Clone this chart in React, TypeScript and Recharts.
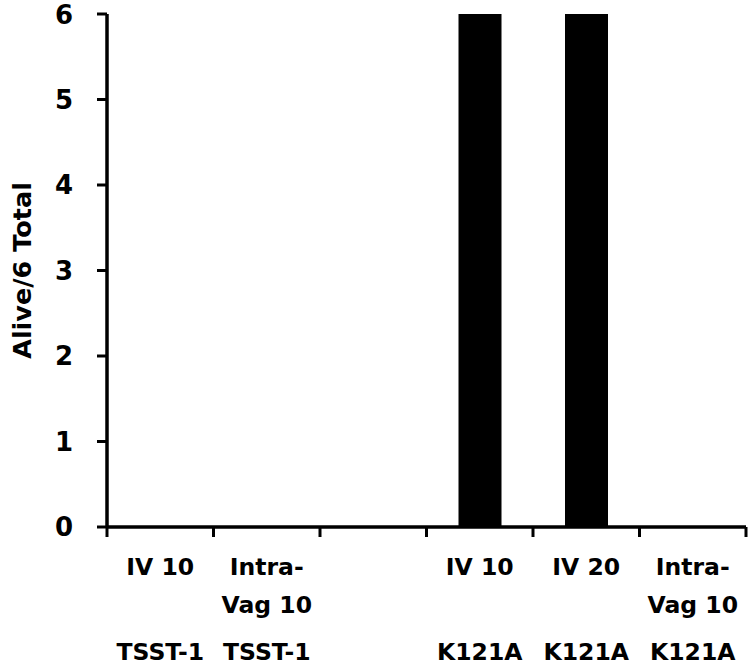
import { Bar, BarChart, XAxis, YAxis } from "recharts";

const routes: string[][] = [["IV 10"], ["Intra-", "Vag 10"], [], ["IV 10"], ["IV 20"], ["Intra-", "Vag 10"]];
const proteins = ["TSST-1", "TSST-1", "", "K121A", "K121A", "K121A"];
const alive = [0, 0, 0, 6, 6, 0];
const yTicks = [0, 1, 2, 3, 4, 5, 6];

const data = alive.map((v, i) => ({ pos: i + 0.5, alive: v }));
const xTicks = Array.from({ length: routes.length * 2 + 1 }, (_, i) => i / 2);

const FONT = "'DejaVu Sans', sans-serif";

const XTick = (props: any) => {
  const { x, y, payload } = props;
  const v = payload.value as number;
  if (Number.isInteger(v)) {
    return <line x1={x} x2={x} y1={y} y2={y + 10} stroke="#000" strokeWidth={3} />;
  }
  const i = Math.floor(v);
  return (
    <g fontFamily={FONT} fontWeight="bold" fontSize={23.5} fill="#000">
      {routes[i].map((line, k) => (
        <text key={k} x={x} y={y + 48 + k * 38} textAnchor="middle">
          {line}
        </text>
      ))}
      <text x={x} y={y + 133} textAnchor="middle">
        {proteins[i]}
      </text>
    </g>
  );
};

const YLabel = (props: any) => {
  const { viewBox } = props;
  const cy = viewBox.y + viewBox.height / 2;
  return (
    <text
      x={22}
      y={cy}
      transform={`rotate(-90, 22, ${cy})`}
      textAnchor="middle"
      dominantBaseline="central"
      fontFamily={FONT}
      fontWeight="bold"
      fontSize={25.5}
      fill="#000"
    >
      Alive/6 Total
    </text>
  );
};

export default function App() {
  return (
    <div style={{ position: "absolute", left: 0, top: 0, background: "#fff" }}>
      <BarChart width={750} height={669} data={data} margin={{ top: 14, right: 4, left: 0, bottom: 0 }}>
        <XAxis
          dataKey="pos"
          type="number"
          domain={[0, 6]}
          ticks={xTicks}
          interval={0}
          tickSize={0}
          tickMargin={0}
          tickLine={false}
          height={142}
          axisLine={{ stroke: "#000", strokeWidth: 3.5 }}
          tick={<XTick />}
        />
        <YAxis
          domain={[0, 6]}
          ticks={yTicks}
          width={107}
          tickSize={10}
          tickMargin={24}
          axisLine={{ stroke: "#000", strokeWidth: 3.5 }}
          tickLine={{ stroke: "#000", strokeWidth: 3 }}
          tick={{ fill: "#000", fontFamily: FONT, fontWeight: "bold", fontSize: 26 }}
          label={<YLabel />}
        />
        <Bar dataKey="alive" fill="#000" barSize={43} isAnimationActive={false} />
      </BarChart>
    </div>
  );
}
